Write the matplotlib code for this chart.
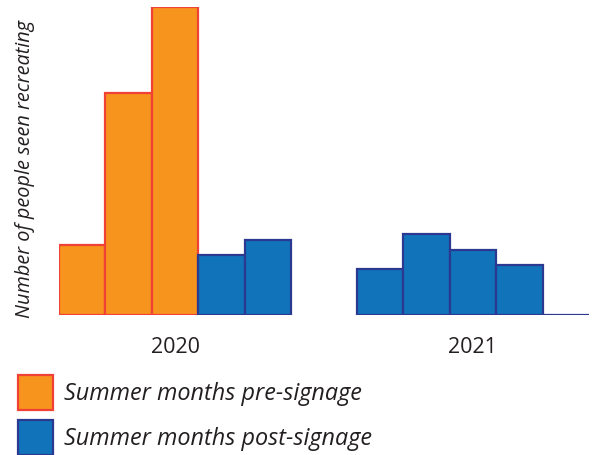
import matplotlib
matplotlib.use("Agg")
import matplotlib.pyplot as plt
from matplotlib.patches import Patch

# Counts of people seen recreating, per summer month
years = ["2020", "2021"]
values_2020 = [70, 222, 308, 60, 75]
values_2021 = [46, 81, 65, 50, 0]
# Which bars fall before the signage went up
pre_2020 = [True, True, True, False, False]
pre_2021 = [False, False, False, False, False]

legend_labels = ["Summer months pre-signage", "Summer months post-signage"]
ylabel = "Number of people seen recreating"

PRE_FACE, PRE_EDGE = "#F7941D", "#EF4136"
POST_FACE, POST_EDGE = "#1174BB", "#2B3990"

plt.rcParams["font.family"] = ["Open Sans", "DejaVu Sans"]

fig = plt.figure(figsize=(5.97, 4.55), dpi=100)
ax = fig.add_axes([59 / 597, 140 / 455, 530 / 597, (315 - 6.7) / 455])

gap = 1.416
starts = [0.0, len(values_2020) + gap]
groups = [(values_2020, pre_2020), (values_2021, pre_2021)]
centers = []
for start, (vals, pre) in zip(starts, groups):
    xs = [start + i for i in range(len(vals))]
    faces = [PRE_FACE if p else POST_FACE for p in pre]
    edges = [PRE_EDGE if p else POST_EDGE for p in pre]
    ax.bar(xs, vals, width=1.0, align="edge", color=faces,
           edgecolor=edges, linewidth=1.6, zorder=3)
    centers.append(start + len(vals) / 2)

ax.set_xlim(0, starts[1] + len(values_2021))
ax.set_ylim(0, max(values_2020 + values_2021))
ax.set_xticks(centers)
ax.set_xticklabels(years, fontsize=15.5, color="#231F20")
ax.tick_params(axis="x", length=0, pad=15.5)
ax.set_yticks([])
for s in ax.spines.values():
    s.set_visible(False)

fig.text(25 / 597, 1 - 169 / 455, ylabel, rotation=90, ha="center",
         va="center", fontsize=14.3, style="italic", color="#231F20")

handles = [Patch(facecolor=PRE_FACE, edgecolor=PRE_EDGE, linewidth=1.6),
           Patch(facecolor=POST_FACE, edgecolor=POST_EDGE, linewidth=1.6)]
leg = fig.legend(handles, legend_labels, loc="upper left",
                 bbox_to_anchor=(18 / 597, 1 - 375 / 455), frameon=False,
                 borderpad=0, borderaxespad=0, handlelength=1.48,
                 handleheight=1.9, handletextpad=0.5, labelspacing=0.45,
                 prop={"size": 16.8, "style": "italic"})
for t in leg.get_texts():
    t.set_color("#231F20")

fig.savefig("out.png", dpi=100)
